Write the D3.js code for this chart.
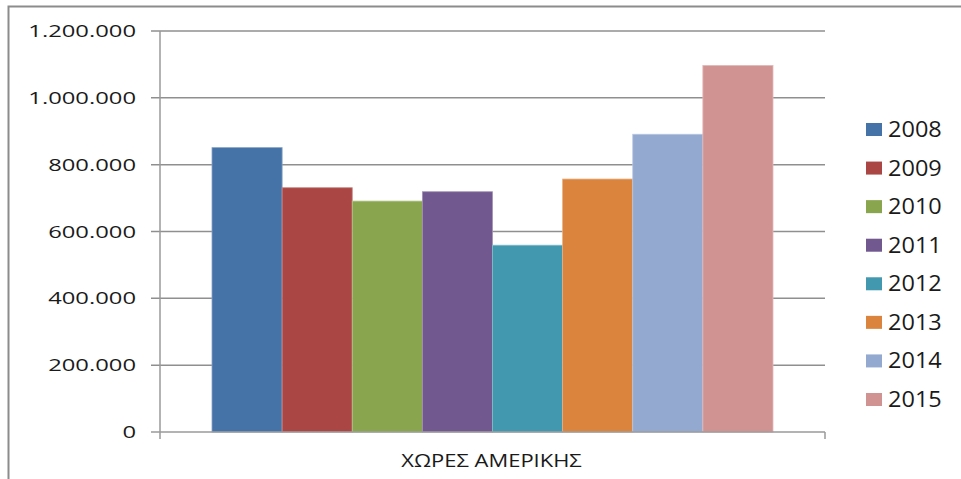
<!DOCTYPE html>
<html>
<head>
<meta charset="utf-8">
<script src="https://cdn.jsdelivr.net/npm/d3@7"></script>
<style>
  html, body { margin: 0; padding: 0; background: #fff; }
  svg { display: block; }
  text { font-family: "Open Sans", "DejaVu Sans", sans-serif; fill: #1a1a1a; }
</style>
</head>
<body>
<svg id="chart" width="961" height="479"></svg>
<script>
// Region on the category axis and the yearly series shown for it
const categories = ["ΧΩΡΕΣ ΑΜΕΡΙΚΗΣ"];
const years = ["2008", "2009", "2010", "2011", "2012", "2013", "2014", "2015"];
const values = [851000, 731000, 691000, 719000, 559000, 757000, 891000, 1097000];
const yTicks = [0, 200000, 400000, 600000, 800000, 1000000, 1200000];
const colors = ["#4572A7", "#AA4643", "#89A54E", "#71588F", "#4198AF", "#DB843D", "#93A9CF", "#D19392"];

const svg = d3.select("#chart");

// Outer chart frame (only the top and left edges fall inside the view)
svg.append("rect")
  .attr("x", 8.5).attr("y", 6.5)
  .attr("width", 1200).attr("height", 1200)
  .attr("fill", "none").attr("stroke", "#8c8c8c").attr("stroke-width", 2);

const plot = { left: 160, right: 825, top: 31, bottom: 432 };

const y = d3.scaleLinear().domain([0, 1200000]).range([plot.bottom, plot.top]);
const x0 = d3.scaleBand().domain(categories).range([plot.left, plot.right]);
const groupPad = 52;
const x1 = d3.scaleBand().domain(years).range([groupPad, x0.bandwidth() - groupPad]);

const fmt = v => d3.format(",")(v).replace(/,/g, ".");

// Horizontal gridlines with short outside ticks
svg.append("g").selectAll("line").data(yTicks.filter(t => t > 0)).join("line")
  .attr("x1", plot.left - 9).attr("x2", plot.right)
  .attr("y1", d => y(d)).attr("y2", d => y(d))
  .attr("stroke", "#8f8f8f").attr("stroke-width", 1.5);

// Bars
const groups = svg.append("g").selectAll("g").data(categories).join("g")
  .attr("transform", d => `translate(${x0(d)},0)`);
groups.selectAll("rect").data(years.map((yr, i) => ({ yr, v: values[i], c: colors[i] }))).join("rect")
  .attr("x", d => x1(d.yr))
  .attr("width", x1.bandwidth())
  .attr("y", d => y(d.v))
  .attr("height", d => y(0) - y(d.v))
  .attr("fill", d => d.c)
  .attr("stroke", d => d3.interpolateRgb(d.c, "#ffffff")(0.35))
  .attr("stroke-width", 0.8);

// Value axis line
svg.append("line")
  .attr("x1", plot.left).attr("x2", plot.left)
  .attr("y1", plot.top).attr("y2", plot.bottom + 7)
  .attr("stroke", "#9a9a9a").attr("stroke-width", 1.5);

// Category axis line with end ticks
svg.append("line")
  .attr("x1", plot.left - 9).attr("x2", plot.right)
  .attr("y1", y(0)).attr("y2", y(0))
  .attr("stroke", "#9a9a9a").attr("stroke-width", 1.5);
svg.append("g").selectAll("line").data([x0.range()[1]]).join("line")
  .attr("x1", d => d).attr("x2", d => d)
  .attr("y1", y(0)).attr("y2", y(0) + 7)
  .attr("stroke", "#9a9a9a").attr("stroke-width", 1.5);

// Value axis labels
const tickSx = 1.4;
svg.append("g").selectAll("text").data(yTicks).join("text")
  .attr("transform", d => `translate(136,${y(d)}) scale(${tickSx},1)`)
  .attr("text-anchor", "end")
  .attr("dy", "0.36em")
  .attr("font-size", 17)
  .text(d => fmt(d));

// Category label
svg.append("g").selectAll("text").data(categories).join("text")
  .attr("transform", d => `translate(${x0(d) + x0.bandwidth() / 2 - 1},467) scale(1.22,1)`)
  .attr("text-anchor", "middle")
  .attr("font-size", 18)
  .text(d => d);

// Legend
const legend = svg.append("g").attr("transform", "translate(866,123)");
const rows = legend.selectAll("g").data(years).join("g")
  .attr("transform", (d, i) => `translate(0,${i * 38.57})`);
rows.append("rect")
  .attr("width", 16).attr("height", 13)
  .attr("fill", (d, i) => colors[i]);
rows.append("text")
  .attr("transform", "translate(22,14) scale(1.12,1)")
  .attr("font-size", 21)
  .text(d => d);
</script>
</body>
</html>
